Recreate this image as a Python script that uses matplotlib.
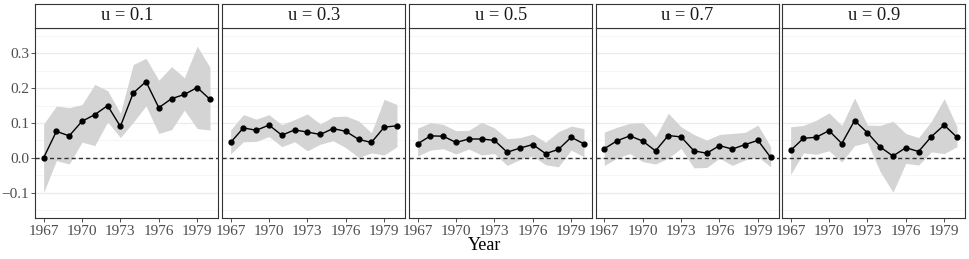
import numpy as np
import matplotlib
matplotlib.use('Agg')
import matplotlib.pyplot as plt

plt.rcParams['font.family'] = ['Liberation Serif', 'DejaVu Serif']

years = np.arange(1967, 1981)
quantiles = ['0.1', '0.3', '0.5', '0.7', '0.9']

est = [
    [0.000, 0.076, 0.063, 0.105, 0.124, 0.150, 0.090, 0.186, 0.219, 0.144, 0.170, 0.182, 0.202, 0.168],
    [0.044, 0.086, 0.079, 0.094, 0.065, 0.080, 0.074, 0.067, 0.084, 0.076, 0.053, 0.044, 0.088, 0.092],
    [0.040, 0.063, 0.062, 0.044, 0.054, 0.054, 0.050, 0.016, 0.028, 0.038, 0.012, 0.024, 0.059, 0.040],
    [0.026, 0.049, 0.063, 0.048, 0.020, 0.064, 0.060, 0.020, 0.013, 0.035, 0.025, 0.038, 0.050, 0.001],
    [0.021, 0.056, 0.059, 0.078, 0.041, 0.107, 0.072, 0.031, 0.005, 0.029, 0.018, 0.061, 0.094, 0.059],
]
upper = [
    [0.097, 0.149, 0.144, 0.153, 0.211, 0.193, 0.128, 0.268, 0.286, 0.223, 0.262, 0.230, 0.321, 0.260],
    [0.080, 0.124, 0.111, 0.124, 0.095, 0.110, 0.126, 0.097, 0.118, 0.120, 0.106, 0.072, 0.168, 0.153],
    [0.085, 0.101, 0.096, 0.078, 0.079, 0.102, 0.086, 0.055, 0.058, 0.068, 0.045, 0.075, 0.091, 0.084],
    [0.074, 0.088, 0.099, 0.101, 0.060, 0.128, 0.089, 0.067, 0.051, 0.067, 0.070, 0.073, 0.094, 0.032],
    [0.089, 0.093, 0.108, 0.129, 0.093, 0.172, 0.094, 0.093, 0.105, 0.070, 0.058, 0.105, 0.170, 0.089],
]
lower = [
    [-0.100, -0.008, -0.018, 0.045, 0.035, 0.103, 0.058, 0.102, 0.149, 0.070, 0.081, 0.137, 0.084, 0.080],
    [0.011, 0.046, 0.047, 0.061, 0.032, 0.046, 0.020, 0.039, 0.049, 0.029, 0.001, 0.014, 0.008, 0.032],
    [0.005, 0.022, 0.026, 0.011, 0.025, 0.008, 0.012, -0.022, -0.005, 0.005, -0.020, -0.026, 0.022, 0.003],
    [-0.022, -0.001, 0.012, -0.011, -0.018, -0.001, 0.027, -0.029, -0.028, -0.001, -0.022, -0.006, 0.003, -0.026],
    [-0.048, 0.014, 0.010, 0.020, -0.012, 0.035, 0.044, -0.040, -0.099, -0.016, -0.021, 0.017, 0.012, 0.032],
]

W, H = 969, 259
fig = plt.figure(figsize=(W / 100, H / 100), dpi=100)

lefts = [35.3, 222.3, 409.3, 596.0, 782.3]
pw = 183.0
ptop, pbot, stop = 27.7, 218.3, 4.3
border = '#333333'

for i, q in enumerate(quantiles):
    ax = fig.add_axes([lefts[i] / W, (H - pbot) / H, pw / W, (pbot - ptop) / H])
    ax.fill_between(years, lower[i], upper[i], color='#d4d4d4', lw=0, zorder=2)
    ax.plot(years, est[i], color='black', lw=1.0, marker='o', ms=3.5, zorder=4)
    ax.axhline(0, color='#333333', lw=1.0, ls=(0, (3, 2.2)), zorder=3)
    ax.set_xlim(1966.35, 1980.65)
    ax.set_ylim(-0.174, 0.374)
    ax.set_xticks([1967, 1970, 1973, 1976, 1979])
    ax.set_yticks([-0.1, 0.0, 0.1, 0.2, 0.3])
    ax.set_yticks(np.arange(-0.15, 0.4, 0.1), minor=True)
    ax.grid(axis='y', which='major', color='#ebebeb', lw=0.9, zorder=0)
    ax.grid(axis='y', which='minor', color='#f2f2f2', lw=0.5, zorder=0)
    ax.set_axisbelow(True)
    ax.tick_params(axis='both', which='major', length=3, width=0.6, color='#333333',
                   labelsize=11, labelcolor='#4d4d4d', pad=1.5)
    ax.tick_params(axis='y', which='minor', length=0)
    if i > 0:
        ax.tick_params(axis='y', which='major', left=False, labelleft=False)
    else:
        ax.set_yticklabels(['\u22120.1', '0.0', '0.1', '0.2', '0.3'])
    for s in ax.spines.values():
        s.set_color(border)
        s.set_linewidth(0.8)

    sax = fig.add_axes([lefts[i] / W, (H - ptop) / H, pw / W, (ptop - stop) / H])
    sax.set_xticks([])
    sax.set_yticks([])
    for s in sax.spines.values():
        s.set_color(border)
        s.set_linewidth(0.8)
    sax.text(0.5, 0.5, 'u = ' + q, ha='center', va='center', fontsize=13.3,
             color='#1a1a1a', transform=sax.transAxes)

fig.text(0.5, 1 - 245 / H, 'Year', ha='center', va='center', fontsize=13, color='black')

fig.savefig('out.png', dpi=100)
